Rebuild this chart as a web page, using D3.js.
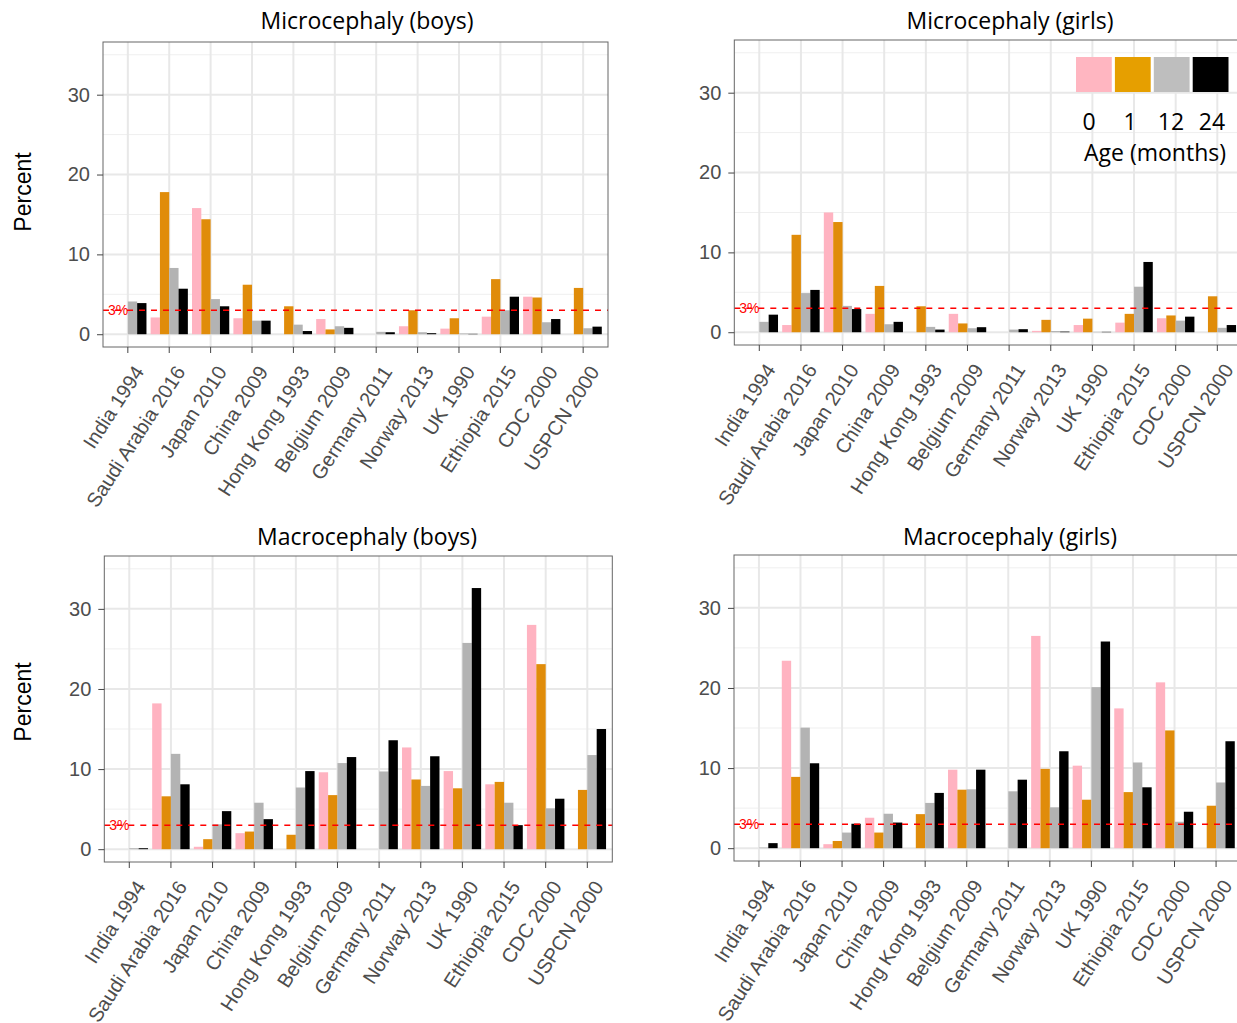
<!DOCTYPE html>
<html>
<head>
<meta charset="utf-8">
<script src="https://cdn.jsdelivr.net/npm/d3@7"></script>
<style>
  body { margin: 0; background: #fff; }
  svg { display: block; }
  text { font-family: "Liberation Sans", Arial, sans-serif; }
  .title, .legend-text { font-family: "Open Sans", "Noto Sans", sans-serif; }
</style>
</head>
<body>
<svg id="chart" width="1237" height="1023"></svg>
<script>
// Reference populations (x categories)
const categories = [
    "India 1994", "Saudi Arabia 2016", "Japan 2010", "China 2009",
    "Hong Kong 1993", "Belgium 2009", "Germany 2011", "Norway 2013",
    "UK 1990", "Ethiopia 2015", "CDC 2000", "USPCN 2000"
];
const ageGroups = ["0", "1", "12", "24"];
const barColors = ["#FFB3C1", "#E08C0A", "#B3B3B3", "#000000"];
const legendColors = ["#FFB6C1", "#E69F00", "#BEBEBE", "#000000"];
const yTicks = [0, 10, 20, 30];
const yMinorTicks = [5, 15, 25, 35];
const cutoff = 3;

// Percent per age group (rows: 0, 1, 12, 24 months), null = not available
const microBoys = [
    [null, 2.1, 15.8, 2.0, null, 1.9, null, 1.0, 0.7, 2.2, 4.7, null],
    [null, 17.8, 14.4, 6.2, 3.5, 0.6, null, 3.0, 2.0, 6.9, 4.6, 5.8],
    [4.1, 8.3, 4.4, 1.7, 1.2, 1.0, 0.3, 0.25, 0.1, 3.0, 1.5, 0.75],
    [3.9, 5.7, 3.5, 1.7, 0.4, 0.8, 0.25, 0.13, 0.05, 4.7, 1.9, 0.95]
];
const microGirls = [
    [null, 0.9, 15.0, 2.3, null, 2.3, null, 0.17, 0.9, 1.2, 1.75, null],
    [null, 12.2, 13.8, 5.8, 3.25, 1.1, null, 1.55, 1.7, 2.3, 2.1, 4.5],
    [1.3, 4.9, 3.3, 1.0, 0.67, 0.5, 0.33, 0.15, 0.05, 5.7, 1.45, 0.55],
    [2.2, 5.3, 2.9, 1.3, 0.33, 0.63, 0.38, 0.08, 0.05, 8.8, 1.95, 0.9]
];
const macroBoys = [
    [null, 18.2, 0.3, 2.0, null, 9.6, null, 12.7, 9.75, 8.1, 28.0, null],
    [null, 6.6, 1.25, 2.2, 1.8, 6.75, null, 8.7, 7.6, 8.4, 23.1, 7.4],
    [0.12, 11.9, 3.1, 5.8, 7.7, 10.75, 9.7, 7.9, 25.75, 5.8, 5.1, 11.75],
    [0.12, 8.1, 4.75, 3.75, 9.75, 11.5, 13.6, 11.6, 32.6, 3.0, 6.3, 15.0]
];
const macroGirls = [
    [null, 23.4, 0.5, 3.8, null, 9.8, null, 26.5, 10.3, 17.45, 20.7, null],
    [null, 8.9, 0.9, 1.95, 4.25, 7.3, null, 9.9, 6.05, 7.0, 14.7, 5.3],
    [0.08, 15.05, 1.95, 4.3, 5.65, 7.35, 7.1, 5.1, 20.1, 10.7, 3.3, 8.2],
    [0.63, 10.6, 3.05, 3.2, 6.9, 9.8, 8.55, 12.1, 25.8, 7.6, 4.55, 13.35]
];

const svg = d3.select("#chart");

// Panel frames in page pixels
const panels = [
    { title: "Microcephaly (boys)", values: microBoys, left: 103, right: 608, top: 42, bottom: 347, titleX: 367, titleY: 21, yLabelY: 192 },
    { title: "Microcephaly (girls)", values: microGirls, left: 734.3, right: 1242.3, top: 40, bottom: 345, titleX: 1010, titleY: 21, legend: true },
    { title: "Macrocephaly (boys)", values: macroBoys, left: 104.3, right: 612.3, top: 556, bottom: 862, titleX: 367, titleY: 537, yLabelY: 702 },
    { title: "Macrocephaly (girls)", values: macroGirls, left: 734, right: 1241, top: 555, bottom: 861, titleX: 1010, titleY: 537 }
];

function drawPanel(p) {
    const x = d3.scaleBand()
        .domain(categories)
        .range([p.left, p.right])
        .paddingInner(0.1)
        .paddingOuter(0.15);
    const xAge = d3.scaleBand()
        .domain(ageGroups)
        .range([0, x.bandwidth()]);
    const y = d3.scaleLinear()
        .domain([-1.6, 36.6])
        .range([p.bottom, p.top]);
    const center = d => x(d) + x.bandwidth() / 2;

    const g = svg.append("g");

    // Grid
    g.selectAll("line.minor")
        .data(yMinorTicks)
        .join("line")
        .attr("x1", p.left).attr("x2", p.right)
        .attr("y1", d => y(d)).attr("y2", d => y(d))
        .attr("stroke", "#EFEFEF")
        .attr("stroke-width", 1);
    g.selectAll("line.major")
        .data(yTicks)
        .join("line")
        .attr("x1", p.left).attr("x2", p.right)
        .attr("y1", d => y(d)).attr("y2", d => y(d))
        .attr("stroke", "#E8E8E8")
        .attr("stroke-width", 2);
    g.selectAll("line.vgrid")
        .data(categories)
        .join("line")
        .attr("x1", center).attr("x2", center)
        .attr("y1", p.top).attr("y2", p.bottom)
        .attr("stroke", "#E8E8E8")
        .attr("stroke-width", 2);

    // Bars, one group per age
    ageGroups.forEach((age, i) => {
        const rows = categories
            .map((c, j) => ({ cat: c, value: p.values[i][j] }))
            .filter(d => d.value !== null);
        g.append("g")
            .selectAll("rect")
            .data(rows)
            .join("rect")
            .attr("x", d => x(d.cat) + xAge(age))
            .attr("width", xAge.bandwidth())
            .attr("y", d => y(d.value))
            .attr("height", d => y(0) - y(d.value))
            .attr("fill", barColors[i]);
    });

    // 3% reference line
    g.append("line")
        .attr("x1", p.left).attr("x2", p.right)
        .attr("y1", y(cutoff)).attr("y2", y(cutoff))
        .attr("stroke", "#FF0000")
        .attr("stroke-width", 1.5)
        .attr("stroke-dasharray", "6,6");
    g.append("text")
        .attr("x", p.left + 5)
        .attr("y", y(cutoff))
        .attr("dy", "0.35em")
        .style("font-size", "14px")
        .style("fill", "#FF0000")
        .text(cutoff + "%");

    // Frame
    g.append("rect")
        .attr("x", p.left).attr("y", p.top)
        .attr("width", p.right - p.left)
        .attr("height", p.bottom - p.top)
        .attr("fill", "none")
        .attr("stroke", "#666")
        .attr("stroke-width", 1);

    // Axes
    const yAxis = g.append("g")
        .attr("transform", `translate(${p.left},0)`)
        .call(d3.axisLeft(y).tickValues(yTicks).tickSize(6).tickPadding(7));
    const xAxis = g.append("g")
        .attr("transform", `translate(0,${p.bottom})`)
        .call(d3.axisBottom(x).tickSize(6));
    [yAxis, xAxis].forEach(a => {
        a.select(".domain").remove();
        a.selectAll(".tick line").attr("stroke", "#444");
        a.selectAll(".tick text")
            .attr("fill", "#4D4D4D")
            .style("font-size", "20px")
            .style("font-family", "'Liberation Sans', Arial, sans-serif");
    });
    // rotated labels: top-right corner of the text sits just under the tick
    xAxis.selectAll(".tick text")
        .attr("x", null)
        .attr("y", null)
        .attr("dy", "0.71em")
        .attr("text-anchor", "end")
        .attr("transform", "translate(5,17) rotate(-57)");

    // Titles
    g.append("text")
        .attr("class", "title")
        .attr("x", p.titleX)
        .attr("y", p.titleY)
        .attr("dy", "0.35em")
        .attr("text-anchor", "middle")
        .style("font-size", "23px")
        .text(p.title);

    if (p.yLabelY) {
        g.append("text")
            .attr("transform", `translate(23,${p.yLabelY}) rotate(-90)`)
            .attr("dy", "0.35em")
            .attr("text-anchor", "middle")
            .style("font-size", "23px")
            .text("Percent");
    }

    if (p.legend) drawLegend(g);
}

function drawLegend(g) {
    const lx = d3.scaleBand()
        .domain(ageGroups)
        .range([1076, 1228.5])
        .paddingInner(0.08);
    const labelX = d3.scalePoint()
        .domain(ageGroups)
        .range([1089, 1212]);
    g.selectAll("rect.key")
        .data(ageGroups)
        .join("rect")
        .attr("class", "key")
        .attr("x", d => lx(d))
        .attr("y", 57)
        .attr("width", lx.bandwidth())
        .attr("height", 35)
        .attr("fill", (d, i) => legendColors[i]);
    g.selectAll("text.key")
        .data(ageGroups)
        .join("text")
        .attr("class", "legend-text")
        .attr("x", d => labelX(d))
        .attr("y", 130)
        .attr("text-anchor", "middle")
        .style("font-size", "23px")
        .text(d => d);
    g.append("text")
        .attr("class", "legend-text")
        .attr("x", 1155)
        .attr("y", 161)
        .attr("text-anchor", "middle")
        .style("font-size", "23px")
        .text("Age (months)");
}

panels.forEach(drawPanel);
</script>
</body>
</html>
